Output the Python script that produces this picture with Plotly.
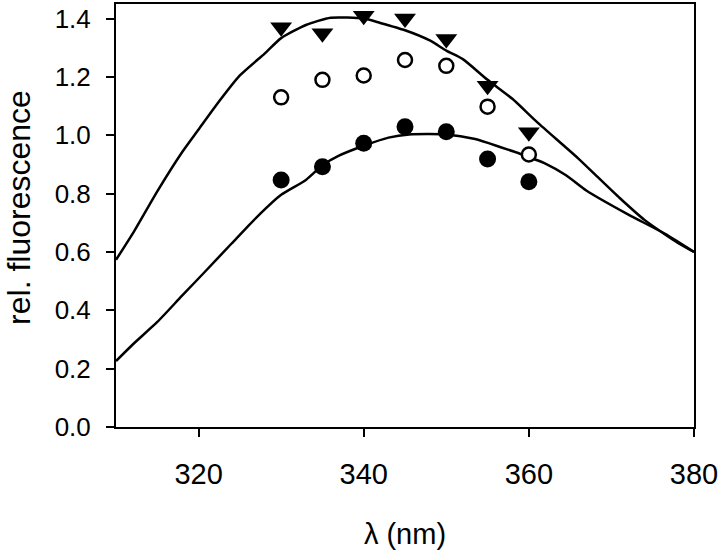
import plotly.graph_objects as go

# Measured data points
wavelength_pts = [330, 335, 340, 345, 350, 355, 360]
triangles = [1.37, 1.35, 1.41, 1.40, 1.33, 1.17, 1.01]
open_circles = [1.13, 1.19, 1.205, 1.258, 1.238, 1.098, 0.934]
filled_circles = [0.847, 0.892, 0.973, 1.029, 1.012, 0.919, 0.841]

# Spectrum curves
upper_x = [310, 312, 315, 318, 320, 322, 325, 328, 330, 333, 336, 340, 342, 345, 348,
           350, 352, 355, 358, 361, 364, 366, 368, 371, 374, 376.5, 378, 380]
upper_y = [0.573, 0.662, 0.808, 0.942, 1.02, 1.098, 1.205, 1.28, 1.333, 1.378, 1.403, 1.400,
           1.385, 1.36, 1.325, 1.29, 1.261, 1.19, 1.125, 1.045, 0.97, 0.92, 0.866,
           0.785, 0.71, 0.66, 0.632, 0.60]
lower_x = [310, 312, 315, 318, 321, 324, 327, 330, 333, 335, 337, 340, 343, 345.5, 350,
           353.5, 356.5, 359, 362, 364.5, 367, 372, 376.5, 380]
lower_y = [0.226, 0.282, 0.36, 0.45, 0.539, 0.629, 0.718, 0.796, 0.847, 0.897, 0.93, 0.964,
           0.992, 1.003, 1.003, 0.987, 0.96, 0.936, 0.903, 0.863, 0.81, 0.729, 0.662, 0.60]

x_ticks = [320, 340, 360, 380]
y_ticks = [0.0, 0.2, 0.4, 0.6, 0.8, 1.0, 1.2, 1.4]

fig = go.Figure()
fig.add_trace(go.Scatter(x=upper_x, y=upper_y, mode="lines",
                         line=dict(color="black", width=2.5, shape="spline", smoothing=0.6),
                         showlegend=False))
fig.add_trace(go.Scatter(x=lower_x, y=lower_y, mode="lines",
                         line=dict(color="black", width=2.5, shape="spline", smoothing=0.6),
                         showlegend=False))
fig.add_trace(go.Scatter(x=wavelength_pts, y=triangles, mode="markers",
                         marker=dict(symbol="triangle-down", size=19, color="black",
                                     line=dict(width=0)), showlegend=False))
fig.add_trace(go.Scatter(x=wavelength_pts, y=open_circles, mode="markers",
                         marker=dict(symbol="circle", size=14, color="white",
                                     line=dict(color="black", width=2.5)), showlegend=False))
fig.add_trace(go.Scatter(x=wavelength_pts, y=filled_circles, mode="markers",
                         marker=dict(symbol="circle", size=17, color="black",
                                     line=dict(width=0)), showlegend=False))

font_family = "Liberation Sans, Arial, sans-serif"
fig.update_layout(
    width=720, height=550,
    margin=dict(l=116, r=25, t=2, b=116),
    paper_bgcolor="white", plot_bgcolor="white",
    font=dict(family=font_family, size=26, color="black"),
    xaxis=dict(range=[310, 380], tickvals=x_ticks, ticktext=[str(v) for v in x_ticks],
               showgrid=False, zeroline=False, showline=True, linecolor="black",
               linewidth=2, mirror=True, ticks="outside", ticklen=8, tickwidth=2,
               tickcolor="black", tickfont=dict(size=29), ticklabelstandoff=12,
               title=dict(text="λ (nm)", font=dict(size=29), standoff=38)),
    yaxis=dict(range=[0, 1.45], tickvals=y_ticks, ticktext=[f"{v:.1f}" for v in y_ticks],
               showgrid=False, zeroline=False, showline=True, linecolor="black",
               linewidth=2, mirror=True, ticks="outside", ticklen=8, tickwidth=2,
               tickcolor="black", tickfont=dict(size=26), ticklabelstandoff=10),
    annotations=[dict(text="rel. fluorescence", textangle=-90, xref="paper", yref="paper",
                      x=-0.168, y=0.52, xanchor="center", yanchor="middle",
                      showarrow=False, font=dict(size=32))],
)
fig.write_html("out.html", config={"displayModeBar": False},
               post_script="document.body.style.margin='0';")
